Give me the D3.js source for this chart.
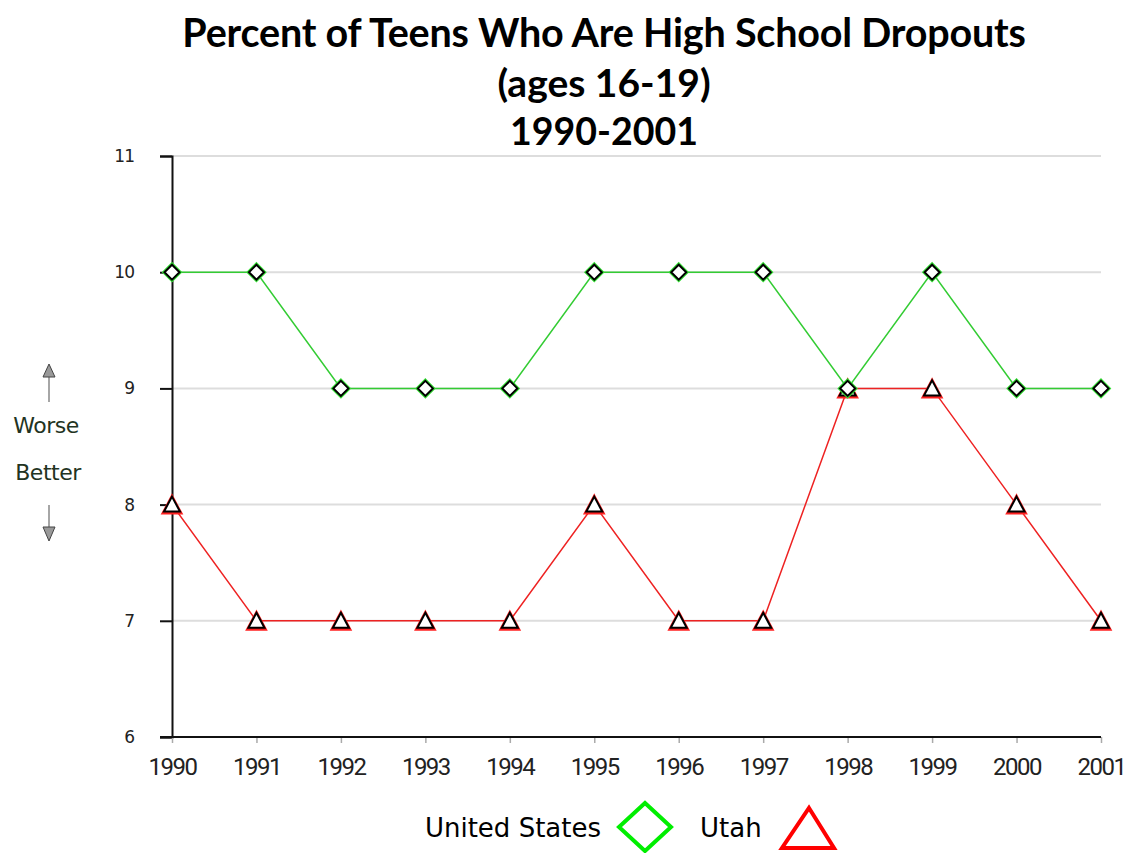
<!DOCTYPE html>
<html>
<head>
<meta charset="utf-8">
<script src="https://cdn.jsdelivr.net/npm/d3@7"></script>
<style>
  body { margin: 0; background: #fff; }
  text { font-family: "DejaVu Sans", sans-serif; }
</style>
</head>
<body>
<svg id="chart"></svg>
<script>
// chart data
const years = [1990, 1991, 1992, 1993, 1994, 1995, 1996, 1997, 1998, 1999, 2000, 2001];
const usValues = [10, 10, 9, 9, 9, 10, 10, 10, 9, 10, 9, 9];
const utahValues = [8, 7, 7, 7, 7, 8, 7, 7, 9, 9, 8, 7];
const yTicks = [6, 7, 8, 9, 10, 11];
const titleLines = ['Percent of Teens Who Are High School Dropouts', '(ages 16-19)', '1990-2001'];

const W = 1124, H = 853;
const svg = d3.select('#chart').attr('width', W).attr('height', H);

const x = d3.scaleLinear().domain([1990, 2001]).range([172, 1101]);
const y = d3.scaleLinear().domain([6, 11]).range([737, 156]);

// title
const titleSizes = [39.5, 39, 37.5];
const titleY = [47, 97, 145];
titleLines.forEach((t, i) => {
  svg.append('text')
    .attr('x', 604).attr('y', titleY[i])
    .attr('text-anchor', 'middle')
    .style('font-family', 'Lato, sans-serif')
    .style('font-weight', 'bold')
    .style('font-size', titleSizes[i] + 'px')
    .style('letter-spacing', i === 0 ? '-0.2px' : '0px')
    .text(t);
});

// gridlines
svg.append('g').selectAll('line')
  .data(yTicks.filter(d => d > 6))
  .enter().append('line')
  .attr('x1', 172).attr('x2', 1101)
  .attr('y1', d => y(d)).attr('y2', d => y(d))
  .attr('stroke', '#dddddd').attr('stroke-width', 2);

// y axis
const yAxis = svg.append('g')
  .attr('transform', 'translate(172,0)')
  .call(d3.axisLeft(y).tickValues(yTicks).tickSize(12).tickPadding(26).tickFormat(d3.format('d')));
yAxis.select('.domain').attr('stroke', '#111').attr('stroke-width', 2);
yAxis.selectAll('.tick line').attr('stroke', '#111').attr('stroke-width', 2);
yAxis.selectAll('.tick text').style('font-size', '17px').style('font-family', 'DejaVu Sans, sans-serif')
  .style('letter-spacing', '-1px').attr('fill', '#222');

// x axis
const xAxis = svg.append('g')
  .attr('transform', `translate(0,${y(6)})`)
  .call(d3.axisBottom(x).tickValues(years).tickSize(6).tickPadding(15).tickFormat(d3.format('d')));
xAxis.select('.domain').remove();
svg.append('line').attr('x1', 160).attr('x2', 1101).attr('y1', y(6)).attr('y2', y(6))
  .attr('stroke', '#111').attr('stroke-width', 2);
xAxis.selectAll('.tick line').attr('stroke', '#aaa').attr('stroke-width', 1.5);
xAxis.selectAll('.tick text')
  .style('font-size', '24px')
  .style('font-family', 'Liberation Sans Narrow, Roboto, sans-serif')
  .style('letter-spacing', '-1.5px')
  .attr('fill', '#222');

// worse / better annotation
const ann = svg.append('g');
ann.append('text').attr('x', 46).attr('y', 433).attr('text-anchor', 'middle')
  .style('font-size', '22px').attr('fill', '#223322').style('letter-spacing', '-0.5px').text('Worse');
ann.append('text').attr('x', 48).attr('y', 480).attr('text-anchor', 'middle')
  .style('font-size', '22px').attr('fill', '#223322').style('letter-spacing', '-0.5px').text('Better');
ann.append('line').attr('x1', 49).attr('x2', 49).attr('y1', 372).attr('y2', 402).attr('stroke', '#888').attr('stroke-width', 1.5);
ann.append('path').attr('d', 'M43,377 L49,364 L55,377 Z').attr('fill', '#999').attr('stroke', '#444');
ann.append('line').attr('x1', 49).attr('x2', 49).attr('y1', 505).attr('y2', 533).attr('stroke', '#888').attr('stroke-width', 1.5);
ann.append('path').attr('d', 'M43,527 L49,541 L55,527 Z').attr('fill', '#999').attr('stroke', '#444');

const line = d3.line().x((d, i) => x(years[i])).y(d => y(d));

// Utah line
svg.append('path').datum(utahValues)
  .attr('d', line).attr('fill', 'none').attr('stroke', '#ee2222').attr('stroke-width', 1.5);
// US line
svg.append('path').datum(usValues)
  .attr('d', line).attr('fill', 'none').attr('stroke', '#33cc33').attr('stroke-width', 1.5);

const diamond = 'M0,-7.5 L7.5,0 L0,7.5 L-7.5,0 Z';
const triangle = 'M0,-8 L8,7 L-8,7 Z';

// Utah markers
svg.append('g').selectAll('path')
  .data(utahValues).enter().append('path')
  .attr('transform', (d, i) => `translate(${x(years[i])},${y(d) + 1})`)
  .attr('d', triangle).attr('fill', 'none').attr('stroke', '#ff2222').attr('stroke-width', 4);
svg.append('g').selectAll('path')
  .data(utahValues).enter().append('path')
  .attr('transform', (d, i) => `translate(${x(years[i])},${y(d)})`)
  .attr('d', triangle).attr('fill', '#fff').attr('stroke', '#000').attr('stroke-width', 2);

// US markers
svg.append('g').selectAll('path')
  .data(usValues).enter().append('path')
  .attr('transform', (d, i) => `translate(${x(years[i])},${y(d)})`)
  .attr('d', diamond).attr('fill', 'none').attr('stroke', '#33dd33').attr('stroke-width', 4);
svg.append('g').selectAll('path')
  .data(usValues).enter().append('path')
  .attr('transform', (d, i) => `translate(${x(years[i])},${y(d)})`)
  .attr('d', diamond).attr('fill', '#fff').attr('stroke', '#000').attr('stroke-width', 2);

// legend
const legend = svg.append('g').style('font-family', 'Lato, sans-serif');
legend.append('text').attr('x', 601).attr('y', 837).attr('text-anchor', 'end')
  .style('font-size', '26px').text('United States');
legend.append('path').attr('d', 'M645,803 L671,827 L645,851 L619,827 Z')
  .attr('fill', 'none').attr('stroke', '#00ee00').attr('stroke-width', 4);
legend.append('text').attr('x', 700).attr('y', 837)
  .style('font-size', '26px').text('Utah');
legend.append('path').attr('d', 'M809,808 L834,848 L782,848 Z')
  .attr('fill', 'none').attr('stroke', '#ff0000').attr('stroke-width', 4);
</script>
</body>
</html>
